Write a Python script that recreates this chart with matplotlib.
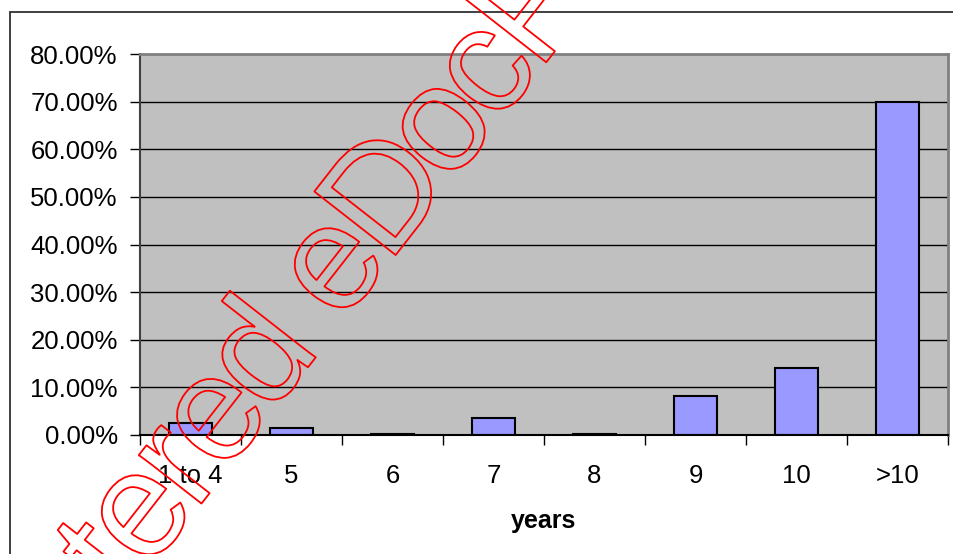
import numpy as np
import matplotlib
matplotlib.use("Agg")
import matplotlib.pyplot as plt
import matplotlib.ticker as plticker
import matplotlib.patheffects as pe
from matplotlib.patches import Rectangle
from matplotlib.font_manager import FontProperties
from matplotlib.textpath import TextToPath

plt.rcParams['font.family'] = ['Liberation Sans', 'DejaVu Sans']

# share of respondents per length of service
categories = ["1 to 4", "5", "6", "7", "8", "9", "10", ">10"]
shares = [2.5, 1.5, 0.2, 3.5, 0.2, 8.2, 14.1, 70.0]
yticks = [0, 10, 20, 30, 40, 50, 60, 70, 80]
xlabel = "years"
stamp = "Unregistered eDocPrinter"

W, H = 954, 554
fig = plt.figure(figsize=(W / 100, H / 100), dpi=100)
fig.patch.set_facecolor("white")

# outer chart frame
fig.patches.append(Rectangle((10 / W, -0.1), 1.2, (H - 12) / H + 0.1,
                             transform=fig.transFigure, fill=False,
                             edgecolor="#303030", linewidth=1.3))

ax = fig.add_axes([140 / W, (H - 435) / H, 808 / W, 381 / H])
ax.set_facecolor("#C0C0C0")

x = np.arange(len(categories))
ax.bar(x, shares, width=0.42, color="#9999FF", edgecolor="black",
       linewidth=1.5, zorder=3)

ax.set_xlim(-0.5, len(categories) - 0.5)
ax.set_ylim(0, 80)

# gridlines
for v in yticks[1:-1]:
    ax.axhline(v, color="black", linewidth=1.0, zorder=1)

ax.yaxis.set_major_locator(plticker.FixedLocator(yticks))
ax.yaxis.set_major_formatter(plticker.FuncFormatter(lambda v, p: "%.2f%%" % v))
ax.tick_params(axis="y", length=7, width=1.0, pad=9, labelsize=18.5, color="black")

ax.set_xticks(x)
ax.set_xticklabels(categories)
ax.xaxis.set_minor_locator(plticker.FixedLocator(np.arange(-0.5, len(categories), 1.0)))
ax.tick_params(axis="x", which="major", length=0, pad=21, labelsize=18.5)
ax.tick_params(axis="x", which="minor", length=7, width=1.0, color="black")
ax.set_xlabel(xlabel, fontsize=18, fontweight="bold", labelpad=15)

for side in ("top", "right"):
    ax.spines[side].set_color("#808080")
    ax.spines[side].set_linewidth(2)
ax.spines["left"].set_color("#404040")
ax.spines["left"].set_linewidth(1.5)
ax.spines["bottom"].set_color("black")
ax.spines["bottom"].set_linewidth(1.5)
ax.spines["bottom"].set_zorder(4)

# red outlined stamp, laid out letter by letter with tight spacing
stamp_size = 108          # pt
tracking = 0.917          # advance scale
angle = 52.0
em = stamp_size * 100 / 72.0
fp = FontProperties(family="Liberation Sans", size=stamp_size)
ttp = TextToPath()
adv = []
for ch in stamp:
    if ch == " ":
        w = ttp.get_text_width_height_descent("a a", fp, False)[0] - \
            ttp.get_text_width_height_descent("aa", fp, False)[0]
    else:
        w = ttp.get_text_width_height_descent(ch, fp, False)[0]
    adv.append(w * 100 / 72.0 * tracking)
adv = np.array(adv)
start = np.concatenate([[0], np.cumsum(adv)[:-1]])

th = np.radians(angle)
along = np.array([np.cos(th), -np.sin(th)])   # image pixels, y down
up = np.array([-np.sin(th), -np.cos(th)])
# baseline start of the "e" in "eDoc"
k = stamp.index("eDoc")
e_start = np.array([341.0, 325.0])
origin = e_start - start[k] * along
for ch, s, a in zip(stamp, start, adv):
    if ch == " ":
        continue
    px, py = origin + s * along
    cx, cy = origin + (s + a / 2) * along + 0.35 * em * up
    # letters lying wholly off the canvas are left out
    if cx < -0.45 * em or cx > W + 0.45 * em or cy < -0.45 * em or cy > H + 0.45 * em:
        continue
    fig.text(px / W, (H - py) / H, ch, fontsize=stamp_size, rotation=angle,
             rotation_mode="anchor", ha="left", va="baseline", color="none",
             family="Liberation Sans",
             path_effects=[pe.withStroke(linewidth=1.3, foreground="red")],
             zorder=10)

fig.savefig("out.png", dpi=100)
